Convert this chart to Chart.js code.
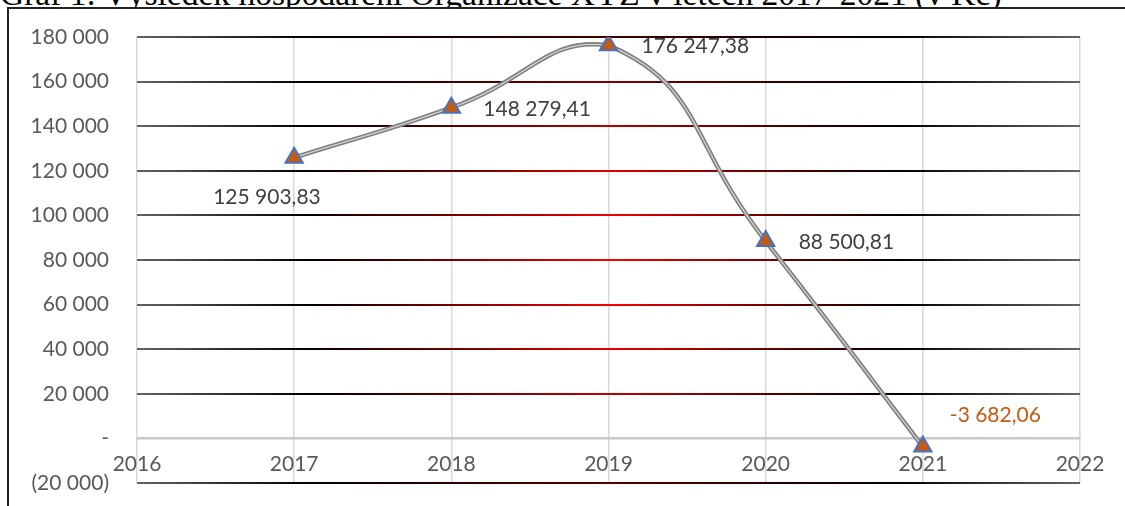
<!DOCTYPE html>
<html>
<head>
<meta charset="utf-8">
<script src="https://cdn.jsdelivr.net/npm/chart.js@4"></script>
<style>
  html, body { margin: 0; padding: 0; background: #fff; }
  body { width: 1125px; height: 506px; position: relative; overflow: hidden; }
  #title {
    position: absolute; left: 0; top: -23px; white-space: nowrap;
    font-family: "Liberation Serif", "Times New Roman", serif;
    font-size: 33.5px; line-height: 34px; color: #000;
  }
  #frame {
    position: absolute; left: 7px; top: 7px; right: 0; bottom: 0;
    border-top: 2px solid #222; border-left: 2px solid #222; background: #fff;
  }
  #wrap { position: absolute; left: 0; top: 0; width: 1125px; height: 506px; }
</style>
</head>
<body>
<div id="title">Graf 1: Výsledek hospodaření Organizace XYZ v letech 2017-2021 (v Kč)</div>
<div id="frame"></div>
<div id="wrap"><canvas id="resultChart"></canvas></div>
<script>
const years = [2017, 2018, 2019, 2020, 2021];
const results = [125903.83, 148279.41, 176247.38, 88500.81, -3682.06];
const yTicks = [-20000, 0, 20000, 40000, 60000, 80000, 100000, 120000, 140000, 160000, 180000];
const xMin = 2016;
const xMax = 2022;

// label placement next to each point: [dx from point to label left edge, dy]
const labelOffsets = [[-81, 40], [32, 1], [33, 1], [33, 1], [27, -31]];
const labelColors = ["#404040", "#404040", "#404040", "#404040", "#C55A11"];

function groupThousands(s) {
  return s.replace(/\B(?=(\d{3})+(?!\d))/g, " ");
}

function formatAxis(v) {
  if (v === 0) return "-";
  if (v < 0) return "(" + groupThousands(String(-v)) + ")";
  return groupThousands(String(v));
}

function formatValue(v) {
  const parts = Math.abs(v).toFixed(2).split(".");
  return (v < 0 ? "-" : "") + groupThousands(parts[0]) + "," + parts[1];
}

function gridGradient(context) {
  const chart = context.chart;
  const area = chart.chartArea;
  const tick = context.tick;
  if (!area || !tick) return "#595959";
  if (tick.value === 0) return "#c8c8c8";
  const y = context.scale.getPixelForValue(tick.value);
  const dy = (y - 268) / 265;
  const k = Math.max(0, 1 - dy * dy);
  const red = "rgb(" + Math.round(255 * k) + ",0,0)";
  const g = chart.ctx.createLinearGradient(area.left, 0, area.right, 0);
  g.addColorStop(0, "#636363");
  g.addColorStop(0.18, "#000000");
  g.addColorStop(0.5, red);
  g.addColorStop(0.81, "#000000");
  g.addColorStop(1, "#636363");
  return g;
}

const pointLabels = {
  id: "pointLabels",
  afterDatasetsDraw(chart) {
    const meta = chart.getDatasetMeta(1);
    const ctx = chart.ctx;
    ctx.save();
    ctx.font = "21px Lato";
    ctx.textBaseline = "middle";
    ctx.textAlign = "left";
    meta.data.forEach((pt, i) => {
      ctx.fillStyle = labelColors[i];
      ctx.fillText(formatValue(results[i]), pt.x + labelOffsets[i][0], pt.y + labelOffsets[i][1]);
    });
    ctx.restore();
  }
};

const points = years.map((yr, i) => ({ x: yr, y: results[i] }));

new Chart(document.getElementById("resultChart"), {
  type: "line",
  data: {
    datasets: [
      {
        data: points,
        borderColor: "#7f7f7f",
        borderWidth: 4.5,
        tension: 0.5,
        pointRadius: 0,
        order: 2
      },
      {
        data: points,
        borderColor: "#d4d4d4",
        borderWidth: 1.3,
        tension: 0.5,
        pointStyle: "triangle",
        pointRadius: 10,
        pointBackgroundColor: "#C55A11",
        pointBorderColor: "#4472C4",
        pointBorderWidth: 2,
        order: 1
      }
    ]
  },
  options: {
    responsive: true,
    maintainAspectRatio: false,
    animation: false,
    layout: { padding: { top: 37, right: 45, bottom: 23, left: 0 } },
    plugins: { legend: { display: false }, tooltip: { enabled: false } },
    scales: {
      x: {
        type: "linear",
        position: { y: 0 },
        min: xMin,
        max: xMax,
        afterFit: (scale) => { scale.height = 0; },
        ticks: {
          stepSize: 1,
          color: "#595959",
          font: { family: "Lato", size: 21 },
          padding: 13,
          callback: (v) => String(v)
        },
        grid: { color: "#d9d9d9", lineWidth: 1.5, drawTicks: false },
        border: { display: true, color: "#c8c8c8", width: 1.5 }
      },
      y: {
        min: yTicks[0],
        max: yTicks[yTicks.length - 1],
        afterBuildTicks: (scale) => { scale.ticks = yTicks.map((v) => ({ value: v })); },
        afterFit: (scale) => { scale.width = 137; },
        ticks: {
          color: "#595959",
          font: { family: "Lato", size: 21 },
          padding: 2,
          callback: (v) => formatAxis(v)
        },
        grid: {
          color: gridGradient,
          lineWidth: 2,
          drawTicks: true,
          tickLength: 26,
          tickColor: "rgba(0,0,0,0)"
        },
        border: { display: false }
      }
    }
  },
  plugins: [pointLabels]
});
</script>
</body>
</html>
